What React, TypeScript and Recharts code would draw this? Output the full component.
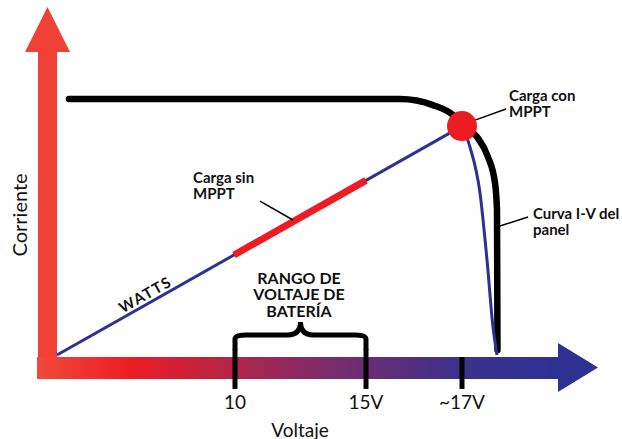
import React from 'react';
import {
  ComposedChart, Line, XAxis, YAxis, ReferenceArea, ReferenceLine, ReferenceDot,
} from 'recharts';

// schematic units: x 0..100 along the voltage arrow, y 0..100 up the current arrow
const panelCurve = [
  [2.4, 85.3], [68.6, 85.3], [75.2, 83.3], [79.2, 80], [81, 77], [84, 72.7],
  [86.2, 66], [87.6, 57.3], [88, 48.3], [88.1, 1.7],
];
const wattsLine = [[0, 0], [81, 76.3]];
const mpptDrop = [[81, 76.3], [82.6, 69.3], [84.6, 54], [86, 31.7], [87.2, 9.3], [88, 0]];
const batteryRange = [[35.4, 33.35], [61.8, 58.2]];
const mpptPoint = { x: 81, y: 76.3 };

const tickValues = [35.6, 61.8, 81];
const tickLabels = ['10', '15V', '~17V'];

const toPoints = (arr: number[][]) => arr.map(([x, y]) => ({ x, y }));

const FONT = 'Lato, "Open Sans", sans-serif';

const Brace = (p: any) => {
  const { x, y, width: w, height: h } = p;
  const cx = x + w / 2;
  const hy = y + h * 0.46;
  const d = `M${x},${y + h} L${x},${y + h * 0.62} Q${x},${hy} ${x + w * 0.08},${hy} L${cx - w * 0.1},${hy} Q${cx},${hy} ${cx},${y} Q${cx},${hy} ${cx + w * 0.1},${hy} L${x + w - w * 0.08},${hy} Q${x + w},${hy} ${x + w},${y + h * 0.62} L${x + w},${y + h}`;
  return <path d={d} fill="none" stroke="#000" strokeWidth={5} />;
};

const RightHead = (p: any) => (
  <polygon points={`${p.x},${p.y} ${p.x},${p.y + p.height} ${p.x + p.width},${p.y + p.height / 2}`} fill="#2E3192" />
);
const UpHead = (p: any) => (
  <polygon points={`${p.x},${p.y + p.height} ${p.x + p.width},${p.y + p.height} ${p.x + p.width / 2},${p.y}`} fill="#EF4136" />
);

const textShape = (lines: string[], opts: { size: number; weight?: number; anchor?: string; rotate?: number; lh?: number; spacing?: number }) =>
  (p: any) => (
    <text
      x={p.cx}
      y={p.cy}
      fontFamily={FONT}
      fontSize={opts.size}
      fontWeight={opts.weight ?? 400}
      textAnchor={opts.anchor ?? 'start'}
      letterSpacing={opts.spacing ?? 0}
      fill="#111"
      transform={opts.rotate ? `rotate(${opts.rotate}, ${p.cx}, ${p.cy})` : undefined}
    >
      {lines.map((l, i) => (
        <tspan key={i} x={p.cx} dy={i === 0 ? 0 : opts.lh ?? 16}>{l}</tspan>
      ))}
    </text>
  );

export default function App() {
  return (
    <div style={{ position: 'absolute', left: 0, top: 0, background: '#fff' }}>
      <ComposedChart width={622} height={439} margin={{ top: 55, right: 65, bottom: 0, left: 57 }}>
        <defs>
          <linearGradient id="xbar" x1="0" y1="0" x2="1" y2="0">
            <stop offset="0" stopColor="#F04A3A" />
            <stop offset="0.18" stopColor="#ED1C24" />
            <stop offset="0.55" stopColor="#7E2B6A" />
            <stop offset="0.8" stopColor="#3E318A" />
            <stop offset="1" stopColor="#2E3192" />
          </linearGradient>
        </defs>
        <XAxis
          type="number"
          dataKey="x"
          domain={[0, 100]}
          ticks={tickValues}
          tickFormatter={(v: number) => tickLabels[tickValues.indexOf(v)]}
          axisLine={false}
          tickLine={false}
          tickSize={33}
          tickMargin={8}
          height={84}
          tick={{ fontSize: 19, fill: '#111', fontFamily: FONT }}
          interval={0}
        />
        <YAxis type="number" domain={[0, 100]} hide />

        <ReferenceArea x1={-3.8} x2={0} y1={-8} y2={101} fill="#EF4136" fillOpacity={1} ifOverflow="visible" />
        <ReferenceArea x1={-6.4} x2={2.6} y1={101} y2={116} ifOverflow="visible" shape={UpHead} />
        <ReferenceArea x1={-4} x2={100.2} y1={-8} y2={-0.67} fill="url(#xbar)" fillOpacity={1} ifOverflow="visible" />
        <ReferenceArea x1={100.2} x2={108.2} y1={-12.3} y2={4} ifOverflow="visible" shape={RightHead} />

        <ReferenceArea x1={tickValues[0]} x2={tickValues[1]} y1={1.67} y2={11} ifOverflow="visible" shape={Brace} />
        <ReferenceLine segment={[{ x: tickValues[0], y: 2 }, { x: tickValues[0], y: -11.3 }]} stroke="#000" strokeWidth={5} ifOverflow="visible" />
        <ReferenceLine segment={[{ x: tickValues[1], y: 2 }, { x: tickValues[1], y: -11.3 }]} stroke="#000" strokeWidth={5} ifOverflow="visible" />
        <ReferenceLine segment={[{ x: tickValues[2], y: -0.67 }, { x: tickValues[2], y: -11.3 }]} stroke="#000" strokeWidth={5} ifOverflow="visible" />

        <Line data={toPoints(panelCurve)} dataKey="y" type="monotone" stroke="#000" strokeWidth={6.5} strokeLinecap="round" dot={false} isAnimationActive={false} />
        <Line data={toPoints(wattsLine)} dataKey="y" type="linear" stroke="#2E3192" strokeWidth={3} dot={false} isAnimationActive={false} />
        <Line data={toPoints(mpptDrop)} dataKey="y" type="monotone" stroke="#2E3192" strokeWidth={3} dot={false} isAnimationActive={false} />
        <Line data={toPoints(batteryRange)} dataKey="y" type="linear" stroke="#ED1C24" strokeWidth={7} dot={false} isAnimationActive={false} />

        <ReferenceLine segment={[{ x: 83.6, y: 78.3 }, { x: 89.8, y: 82 }]} stroke="#000" strokeWidth={1.5} ifOverflow="visible" />
        <ReferenceLine segment={[{ x: 88.6, y: 43 }, { x: 94.2, y: 46 }]} stroke="#000" strokeWidth={1.5} ifOverflow="visible" />
        <ReferenceLine segment={[{ x: 40.6, y: 51.3 }, { x: 47.2, y: 45 }]} stroke="#000" strokeWidth={1.5} ifOverflow="visible" />

        <ReferenceDot x={mpptPoint.x} y={mpptPoint.y} r={15} fill="#ED1C24" stroke="none" ifOverflow="visible" />

        <ReferenceDot x={90.4} y={84.7} ifOverflow="visible" shape={textShape(['Carga con', 'MPPT'], { size: 15, weight: 700 })} />
        <ReferenceDot x={95.2} y={45.3} ifOverflow="visible" shape={textShape(['Curva I-V del', 'panel'], { size: 15, weight: 700 })} />
        <ReferenceDot x={27.2} y={57.3} ifOverflow="visible" shape={textShape(['Carga sin', 'MPPT'], { size: 15, weight: 700 })} />
        <ReferenceDot x={48.4} y={23.7} ifOverflow="visible" shape={textShape(['RANGO DE', 'VOLTAJE DE', 'BATERÍA'], { size: 16, weight: 700, anchor: 'middle', lh: 16.5 })} />
        <ReferenceDot x={18.2} y={18.6} ifOverflow="visible" shape={textShape(['WATTS'], { size: 15, weight: 700, anchor: 'middle', rotate: -29.5, spacing: 1.5 })} />
        <ReferenceDot x={-6} y={46.7} ifOverflow="visible" shape={textShape(['Corriente'], { size: 20, anchor: 'middle', rotate: -90 })} />
        <ReferenceDot x={48.6} y={-27.3} ifOverflow="visible" shape={textShape(['Voltaje'], { size: 19, anchor: 'middle' })} />
      </ComposedChart>
    </div>
  );
}
